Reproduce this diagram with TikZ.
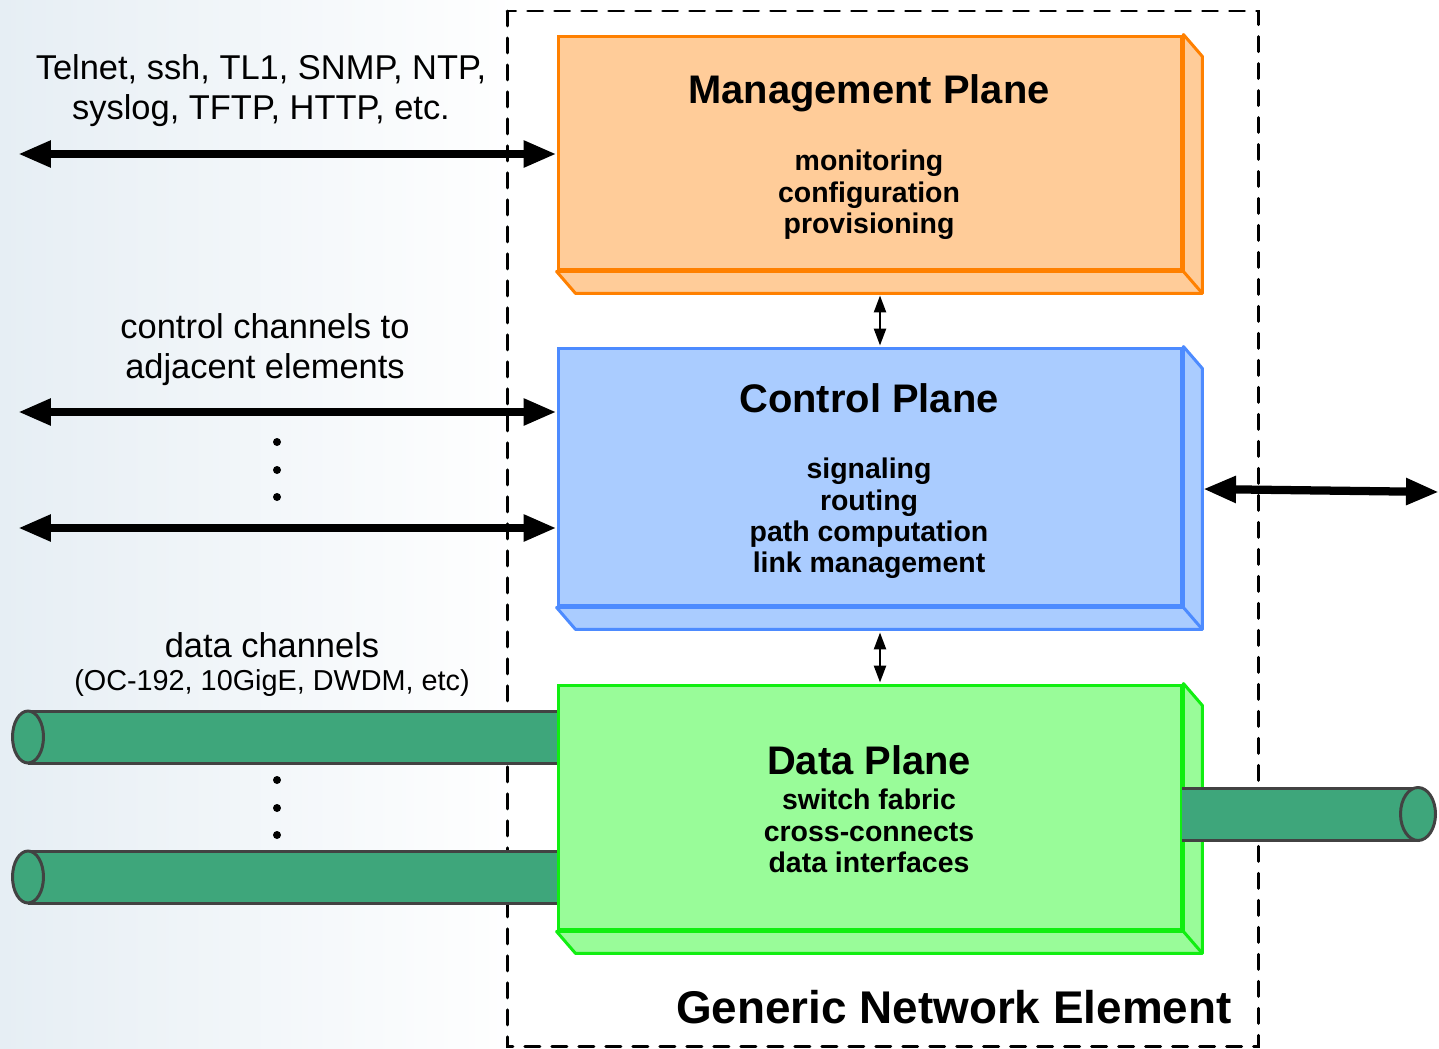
\documentclass[tikz,border=0pt]{standalone}
\usepackage{fontspec}
\setmainfont{Liberation Sans}
\usetikzlibrary{
  arrows.meta,
  calc,
  positioning
}
\definecolor{bgblue}{HTML}{E6EEF4}
\definecolor{mgmtfill}{HTML}{FFCC99}
\definecolor{mgmtdraw}{HTML}{FF8000}
\definecolor{cpfill}{HTML}{AACCFF}
\definecolor{cpdraw}{HTML}{4D8BFF}
\definecolor{dpfill}{HTML}{99FC99}
\definecolor{dpdraw}{HTML}{11EE11}
\definecolor{pipefill}{HTML}{3EA67B}
\definecolor{pipedraw}{HTML}{424242}
\tikzset{
  plane/.style = {draw, line width=1.7pt, inner sep=0pt, minimum width=12.48cm},
  title/.style = {font=\bfseries\fontsize{22.7}{26}\selectfont},
  items/.style = {font=\bfseries\fontsize{16.2}{17.9}\selectfont, align=center},
  lbl/.style = {font=\fontsize{19.6}{22.7}\selectfont, align=center},
  small lbl/.style = {font=\fontsize{16.4}{19}\selectfont},
  big arrow/.style = {line width=4.7pt,
    {Triangle[length=0.66cm,width=0.5cm]}-{Triangle[length=0.66cm,width=0.5cm]}},
  small arrow/.style = {line width=1.4pt,
    {Triangle[length=0.34cm,width=0.24cm]}-{Triangle[length=0.34cm,width=0.24cm]}},
  pipe line/.style = {draw=pipedraw, line width=1.7pt},
}
% side and bottom faces of a plane box
\newcommand{\planedepth}[3]{
  \draw[line width=1.7pt, line join=round, draw=#3, fill=#2]
    (#1.north east) -- ++(19,22) -- ($(#1.south east)+(19,22)$)
    -- ($(#1.south west)+(19,22)$) -- (#1.south west) -- (#1.south east) -- cycle;
  \draw[line width=1.7pt, draw=#3] (#1.south east) -- ++(19,22);
}
% a data channel, open to the right
\newcommand{\leftpipe}[1]{
  \fill[pipefill] (28,#1-26) rectangle (570,#1+26);
  \draw[pipe line] (28,#1-26) -- (570,#1-26) (28,#1+26) -- (570,#1+26);
  \draw[pipe line, fill=pipefill] (28,#1) ellipse [x radius=0.31cm, y radius=0.52cm];
}

\begin{document}
\begin{tikzpicture}[x=0.02cm, y=-0.02cm]
  \useasboundingbox (0,0) rectangle (1439,1048);
  \shade[left color=bgblue, right color=white] (0,0) rectangle (520,1048);

  % network element frame
  \draw[line width=1.7pt, dash pattern=on 0.3cm off 0.24cm, line cap=round]
    (507,11) rectangle (1258,1046);

  % data channels on the left
  \leftpipe{737}
  \leftpipe{877}

  % planes
  \node[plane, fill=mgmtfill, draw=mgmtdraw, minimum height=4.68cm] (mgmt) at (870,153) {};
  \planedepth{mgmt}{mgmtfill}{mgmtdraw}
  \node[plane, fill=cpfill, draw=cpdraw, minimum height=5.16cm] (cp) at (870,477) {};
  \planedepth{cp}{cpfill}{cpdraw}
  \node[plane, fill=dpfill, draw=dpdraw, minimum height=4.9cm] (dp) at (870,807.5) {};
  \planedepth{dp}{dpfill}{dpdraw}

  % data channel on the right
  \fill[pipefill] (1182,788) rectangle (1418,840);
  \draw[pipe line] (1182,788) -- (1418,788) (1182,840) -- (1418,840);
  \draw[pipe line, fill=pipefill] (1418,814) ellipse [x radius=0.35cm, y radius=0.53cm];

  \node[title] (mgmtT) at (869,93) {Management Plane};
  \node[items] (mgmtI) at (869,195) {monitoring\\configuration\\provisioning};
  \node[title] (cpT) at (869,398) {Control Plane};
  \node[items] (cpI) at (869,518.5) {signaling\\routing\\path computation\\link management};
  \node[title] (dpT) at (869,760) {Data Plane};
  \node[items] (dpI) at (869,831) {switch fabric\\cross-connects\\data interfaces};
  \node[anchor=east, inner sep=0pt, font=\bfseries\fontsize{26.1}{30}\selectfont] (gne) at (1232,1007)
    {Generic Network Element};

  % labels on the left
  \node[lbl] (mgmtlbl) at (261,91) {Telnet, ssh, TL1, SNMP, NTP,\\syslog, TFTP, HTTP, etc.};
  \node[lbl] (cplbl) at (265,350) {control channels to\\adjacent elements};
  \node[lbl] (dplbl) at (272,645) {data channels};
  \node[small lbl] (dpsub) at (272,683) {(OC-192, 10GigE, DWDM, etc)};

  % connectors
  \coordinate (mgmtL) at (18,154);
  \coordinate (cpL1) at (18,412);
  \coordinate (cpL2) at (18,528);
  \coordinate (cpR) at (1203,489);
  \coordinate (cpOut) at (1439,492);
  \draw[big arrow] (mgmtL) -- (mgmtL -| mgmt.west);
  \draw[big arrow] (cpL1) -- (cpL1 -| cp.west);
  \draw[big arrow] (cpL2) -- (cpL2 -| cp.west);
  \draw[big arrow] (cpR) -- (cpOut);
  \draw[small arrow] ($(mgmt.south)+(10,24)$) -- ($(cp.north)+(10,-1)$);
  \draw[small arrow] ($(cp.south)+(10,25)$) -- ($(dp.north)+(10,-1)$);

  % dots
  \foreach \y in {442,470,497,780,808,835}
    \fill (277,\y) circle [radius=0.08cm];
\end{tikzpicture}
\end{document}
